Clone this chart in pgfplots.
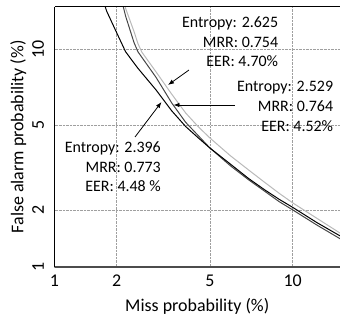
\documentclass[border=0pt]{standalone}
\usepackage{pgfplots}
\pgfplotsset{compat=1.18}
\usepackage{pgfplotstable}
\usepackage{fontspec}
\setmainfont{Carlito}
\usetikzlibrary{arrows.meta}

% probit (normal deviate) of a percentage, Abramowitz-Stegun 26.2.23
\pgfmathdeclarefunction{probit}{1}{%
  \begingroup
  \pgfmathparse{sqrt(-2*ln(#1/100))}\let\PBt\pgfmathresult
  \pgfmathparse{-(\PBt-(2.515517+0.802853*\PBt+0.010328*\PBt*\PBt)/(1+1.432788*\PBt+0.189269*\PBt*\PBt+0.001308*\PBt*\PBt*\PBt))}%
  \pgfmathsmuggle\pgfmathresult
  \endgroup}

% miss (%)  false alarm (%)
\pgfplotstableread{
fm fa
1.73 14.8
1.8 13.6
2 11.5
2.2 9.8
2.5 8.5
3 7.0
3.5 5.75
4 4.93
4.5 4.40
5 3.97
6 3.35
7 2.87
8 2.53
9 2.27
10 2.07
12 1.73
14.2 1.47
}\blackdata
\pgfplotstableread{
fm fa
2.11 14.8
2.2 13.1
2.4 10.6
2.5 9.8
3 7.85
3.5 6.2
4 5.14
4.5 4.50
5 3.97
6 3.29
7 2.83
8 2.49
9 2.21
10 2.01
12 1.68
14.2 1.42
}\darkdata
\pgfplotstableread{
fm fa
2.15 14.8
2.2 13.9
2.4 11.6
2.5 10.5
2.6 9.78
3 8.24
3.5 6.73
4 5.63
4.5 4.92
5 4.40
6 3.66
7 3.15
8 2.75
9 2.43
10 2.18
12 1.82
14.2 1.52
}\lightdata

\begin{document}
\begin{tikzpicture}
\begin{axis}[
  scale only axis, width=285.5bp, height=260.3bp,
  xmin=-2.3263, xmax=-1.0741, ymin=-2.3263, ymax=-1.0768,
  xtick={-2.3263,-2.0537,-1.6449,-1.2816}, xticklabels={1,2,5,10},
  ytick={-2.3263,-2.0537,-1.6449,-1.2816}, yticklabels={1,2,5,10},
  major tick length=0pt,
  grid=major, grid style={densely dotted, gray!75, line width=0.6bp},
  axis line style={draw=none},
  tick label style={font=\fontsize{18}{20}\selectfont},
  xticklabel style={anchor=base}, xticklabel shift=19bp,
  yticklabel style={rotate=90, anchor=base}, yticklabel shift=10.5bp,
  label style={font=\fontsize{18}{20}\selectfont},
  xlabel={Miss probability (\%)}, ylabel={False alarm probability (\%)},
  xlabel style={at={(axis description cs:0.5,-0.1717)}, anchor=base},
  ylabel style={at={(axis description cs:-0.1086,0.5)}, anchor=base},
  clip mode=individual,
]
\addplot[color=gray!55, line width=1bp] table[x expr={probit(\thisrow{fm})}, y expr={probit(\thisrow{fa})}] {\lightdata};
\addplot[color=gray!110!white!60!black, line width=1bp] table[x expr={probit(\thisrow{fm})}, y expr={probit(\thisrow{fa})}] {\darkdata};
\addplot[color=black, line width=1bp] table[x expr={probit(\thisrow{fm})}, y expr={probit(\thisrow{fa})}] {\blackdata};

\draw[black, line width=1bp] (rel axis cs:0,0) -- (rel axis cs:0,1);
\draw[black, line width=1.6bp] (rel axis cs:0,1) -- (rel axis cs:1,1);
\draw[gray!60!black, line width=1.3bp] (rel axis cs:0,0) -- (rel axis cs:1,0);

\node[anchor=east, align=right, inner sep=0pt, font=\fontsize{16}{19.7}\selectfont] at (rel axis cs:0.7839,0.8655) {Entropy: 2.625\\MRR: 0.754\\EER: 4.70\%};
\node[anchor=east, align=right, inner sep=0pt, font=\fontsize{16}{19.7}\selectfont] at (rel axis cs:0.9765,0.617) {Entropy: 2.529\\MRR: 0.764\\EER: 4.52\%};
\node[anchor=east, align=right, inner sep=0pt, font=\fontsize{16}{19.7}\selectfont] at (rel axis cs:0.373,0.3853) {Entropy: 2.396\\MRR: 0.773\\EER: 4.48 \%};

\draw[line width=0.8bp, -{Latex[length=6bp,width=4.5bp]}] (rel axis cs:0.4711,0.7568) -- (rel axis cs:0.3975,0.6992);
\draw[line width=0.8bp, -{Latex[length=6bp,width=4.5bp]}] (rel axis cs:0.6322,0.6224) -- (rel axis cs:0.4168,0.6224);
\draw[line width=0.8bp, -{Latex[length=6bp,width=4.5bp]}] (rel axis cs:0.2820,0.4994) -- (rel axis cs:0.3748,0.6339);

\coordinate (axbl) at (rel axis cs:0,0);
\coordinate (axtr) at (rel axis cs:1,1);
\end{axis}
\pgfresetboundingbox
\path[use as bounding box] ([shift={(-54.5bp,-49bp)}]axbl) rectangle ([shift={(0bp,6.7bp)}]axtr);
\end{tikzpicture}
\end{document}
